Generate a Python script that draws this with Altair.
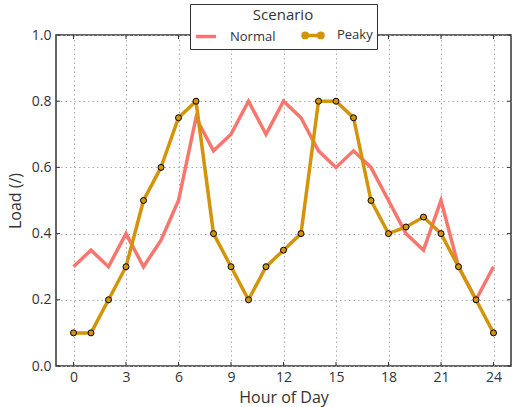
import altair as alt
import pandas as pd

hours = list(range(25))
normal = [0.30, 0.35, 0.30, 0.40, 0.30, 0.38, 0.50, 0.75, 0.65, 0.70, 0.80, 0.70, 0.80,
          0.75, 0.65, 0.60, 0.65, 0.60, 0.50, 0.40, 0.35, 0.50, 0.30, 0.20, 0.30]
peaky = [0.10, 0.10, 0.20, 0.30, 0.50, 0.60, 0.75, 0.80, 0.40, 0.30, 0.20, 0.30, 0.35,
         0.40, 0.80, 0.80, 0.75, 0.50, 0.40, 0.42, 0.45, 0.40, 0.30, 0.20, 0.10]
scenarios = ["Normal", "Peaky"]
colors = ["#F8766D", "#D4940A"]
x_ticks = [0, 3, 6, 9, 12, 15, 18, 21, 24]
y_ticks = [0.0, 0.2, 0.4, 0.6, 0.8, 1.0]

df = pd.DataFrame({
    "hour": hours * 2,
    "load": normal + peaky,
    "scenario": ["Normal"] * len(hours) + ["Peaky"] * len(hours),
})
xt = pd.DataFrame({"hour": x_ticks})
yt = pd.DataFrame({"load": y_ticks})

W, H = 455, 331
FONT = "Open Sans"
DARK = "#333333"

peaky_path = ("M-1,0L1,0 "
              "M-1,0A0.22,0.22 0 1,0 -0.56,0A0.22,0.22 0 1,0 -1,0Z "
              "M0.56,0A0.22,0.22 0 1,0 1,0A0.22,0.22 0 1,0 0.56,0Z")

xscale = alt.Scale(domain=[-1, 25], nice=False, zero=False)
yscale = alt.Scale(domain=[0, 1], nice=False)
xaxis = alt.Axis(values=x_ticks, title="Hour of Day", grid=True, tickSize=0,
                 labelPadding=4, titlePadding=5)
yaxis = alt.Axis(values=y_ticks, format=".1f", title="Load (/)", grid=True, tickSize=0,
                 labelPadding=5, titlePadding=8)

X = alt.X("hour:Q", scale=xscale, axis=xaxis)
Y = alt.Y("load:Q", scale=yscale, axis=yaxis)

lines = alt.Chart(df).mark_line(strokeWidth=3.5).encode(
    x=X, y=Y,
    color=alt.Color(
        "scenario:N",
        scale=alt.Scale(domain=scenarios, range=colors),
        legend=alt.Legend(
            title="Scenario", orient="none", legendX=134, legendY=-31,
            direction="horizontal", columns=2, columnPadding=20,
            fillColor="white", strokeColor=DARK, padding=4,
            titleAnchor="middle", titleFontWeight="normal", titleFontSize=15,
            titleFont=FONT, titleColor=DARK, titlePadding=0,
            labelFont=FONT, labelFontSize=13, labelColor=DARK, labelOffset=12,
            symbolSize=400, symbolStrokeWidth=3.5,
            symbolType={"expr": "datum.value == 'Peaky' ? '" + peaky_path + "' : 'stroke'"},
            symbolFillColor="#D4940A",
        ),
    ),
)

points = alt.Chart(df).transform_filter(alt.datum.scenario == "Peaky").mark_circle(
    size=36, color="#D4940A", stroke="black", strokeWidth=1, opacity=1
).encode(x=X, y=Y)

tick_col = DARK
bt = alt.Chart(xt).mark_rule(color=tick_col, strokeWidth=1).encode(
    x=X, y=alt.value(H), y2=alt.value(H - 4))
tt = alt.Chart(xt).mark_rule(color=tick_col, strokeWidth=1).encode(
    x=X, y=alt.value(0), y2=alt.value(4))
lt = alt.Chart(yt).mark_rule(color=tick_col, strokeWidth=1).encode(
    y=Y, x=alt.value(0), x2=alt.value(4))
rt = alt.Chart(yt).mark_rule(color=tick_col, strokeWidth=1).encode(
    y=Y, x=alt.value(W), x2=alt.value(W - 4))

chart = alt.layer(bt, tt, lt, rt, lines, points).properties(
    width=W, height=H,
    autosize=alt.AutoSizeParams(type="none"),
    padding={"left": 56, "top": 35, "right": 1, "bottom": 41},
).configure_view(
    stroke=DARK, strokeWidth=1.5
).configure_axis(
    labelFont=FONT, titleFont=FONT, labelFontSize=14, titleFontSize=16,
    labelColor=DARK, titleColor=DARK, titleFontWeight="normal",
    domain=False, gridColor="#aaaaaa", gridDash=[1.5, 3], gridWidth=1,
)

chart.save("out.html", embed_options={"renderer": "svg", "actions": False})
